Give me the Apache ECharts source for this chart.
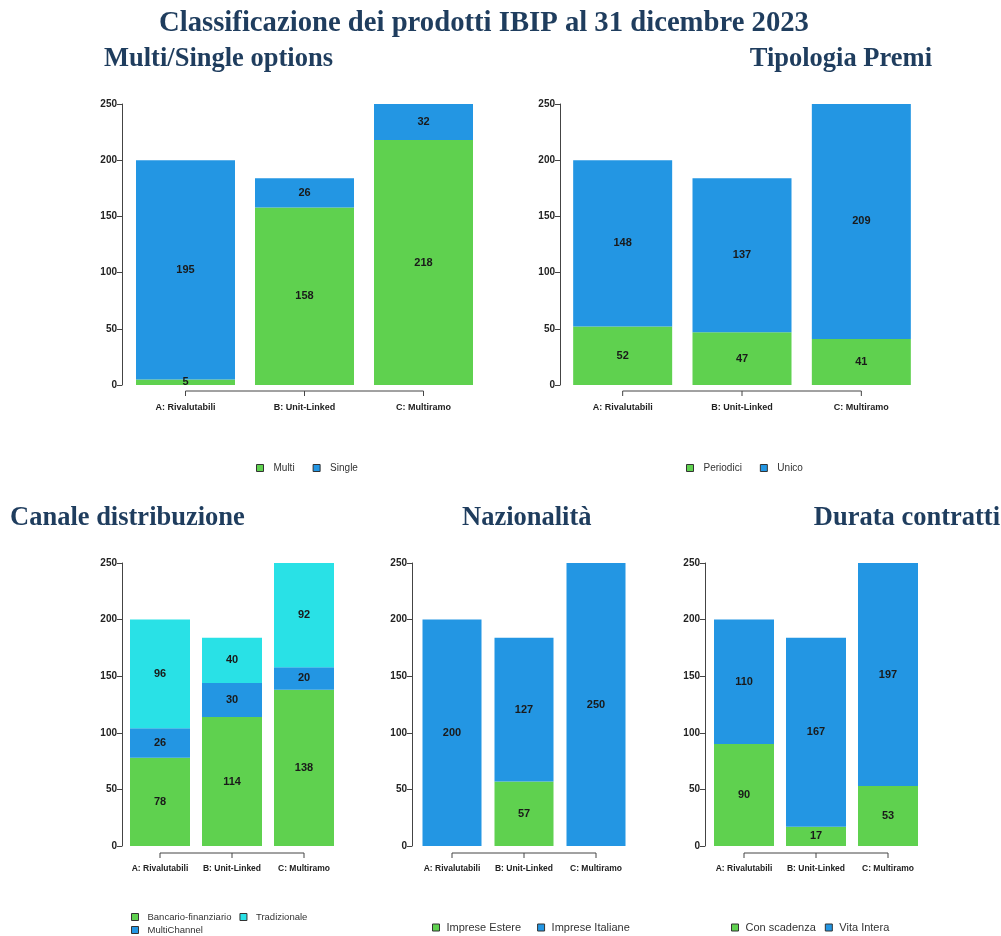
<!DOCTYPE html>
<html>
<head>
<meta charset="utf-8">
<script src="https://cdn.jsdelivr.net/npm/echarts@6/dist/echarts.min.js"></script>
<style>
  html, body { margin: 0; padding: 0; background: #fff; }
  #main { width: 1001px; height: 936px; }
</style>
</head>
<body>
<div id="main"></div>
<script>
// categorie comuni a tutti i pannelli
var categories = ['A: Rivalutabili', 'B: Unit-Linked', 'C: Multiramo'];
var yTicks = [0, 50, 100, 150, 200, 250];

// Multi/Single options
var multi = [5, 158, 218];
var single = [195, 26, 32];
// Tipologia Premi
var periodici = [52, 47, 41];
var unico = [148, 137, 209];
// Canale distribuzione
var bancario = [78, 114, 138];
var multiChannel = [26, 30, 20];
var tradizionale = [96, 40, 92];
// Nazionalita
var estere = [0, 57, 0];
var italiane = [200, 127, 250];
// Durata contratti
var conScadenza = [90, 17, 53];
var vitaIntera = [110, 167, 197];

var GREEN = '#5fd14f', BLUE = '#2396e3', CYAN = '#29e1e6';
var NAVY = '#1f3d5e';
var SERIF = '"Liberation Serif", "DejaVu Serif", serif';
var SANS = '"Liberation Sans", Arial, sans-serif';

// pannelli: griglia in pixel
var panels = [
    {left: 126, width: 357, top: 104, height: 281, yOff: 4, bar: 99, lab: 9},
    {left: 563, width: 358, top: 104, height: 281, yOff: 3, bar: 99, lab: 9},
    {left: 124, width: 216, top: 563, height: 283, yOff: 2, bar: 60, lab: 8.5},
    {left: 416, width: 216, top: 563, height: 283, yOff: 4, bar: 59, lab: 8.5},
    {left: 708, width: 216, top: 563, height: 283, yOff: 3, bar: 60, lab: 8.5}
];

var seriesDefs = [
    [['Multi', multi, GREEN], ['Single', single, BLUE]],
    [['Periodici', periodici, GREEN], ['Unico', unico, BLUE]],
    [['Bancario-finanziario', bancario, GREEN], ['MultiChannel', multiChannel, BLUE], ['Tradizionale', tradizionale, CYAN]],
    [['Imprese Estere', estere, GREEN], ['Imprese Italiane', italiane, BLUE]],
    [['Con scadenza', conScadenza, GREEN], ['Vita Intera', vitaIntera, BLUE]]
];

var grids = [], xAxes = [], yAxes = [], series = [];
panels.forEach(function (p, i) {
    grids.push({left: p.left, top: p.top, width: p.width, height: p.height});
    xAxes.push({
        type: 'category', gridIndex: i, data: categories,
        axisLine: {show: false}, axisTick: {show: false},
        axisLabel: {interval: 0, margin: 18, fontSize: p.lab, fontWeight: 'bold', color: '#222', fontFamily: SANS}
    });
    yAxes.push({
        type: 'value', gridIndex: i, min: 0, max: 250, interval: 50, offset: p.yOff,
        splitLine: {show: false},
        axisLine: {show: true, lineStyle: {color: '#444', width: 1}},
        axisTick: {show: true, length: 5, lineStyle: {color: '#444'}},
        axisLabel: {margin: 5, fontSize: 10, fontWeight: 'bold', color: '#222', fontFamily: SANS}
    });
    seriesDefs[i].forEach(function (d) {
        series.push({
            name: d[0], type: 'bar', stack: 'p' + i,
            xAxisIndex: i, yAxisIndex: i,
            barWidth: p.bar, data: d[1],
            itemStyle: {color: d[2]},
            label: {
                show: true, position: 'inside', fontSize: 11, fontWeight: 'bold',
                color: '#1a1a1a', fontFamily: SANS,
                formatter: function (v) { return v.value ? v.value : ''; }
            }
        });
    });
});

// legenda in stile R: quadratino bordato, testo un po' staccato
function legend(left, top, gap, size, pad, names) {
    return {
        left: left, top: top, itemGap: gap, padding: 0,
        icon: 'rect', itemWidth: 7, itemHeight: 7, orient: 'horizontal',
        itemStyle: {borderColor: '#333', borderWidth: 1},
        textStyle: {fontFamily: SANS, fontSize: size, color: '#333', padding: [0, 0, 0, pad]},
        selectedMode: false,
        data: names
    };
}

function title(text, pos, size) {
    return Object.assign({
        text: text, padding: 0,
        textStyle: {fontFamily: SERIF, fontWeight: 'bold', fontSize: size, color: NAVY}
    }, pos);
}

var chart = echarts.init(document.getElementById('main'));
chart.setOption({
    animation: false,
    title: [
        title('Classificazione dei prodotti IBIP al 31 dicembre 2023', {left: 159, top: 9}, 28.7),
        title('Multi/Single options', {left: 104, top: 46}, 26.5),
        title('Tipologia Premi', {right: 69, top: 46}, 26.5),
        title('Canale distribuzione', {left: 10, top: 505}, 26.5),
        title('Nazionalità', {left: 462, top: 505}, 26.5),
        title('Durata contratti', {right: 1, top: 505}, 26.5)
    ],
    legend: [
        legend(256, 463, 18, 10, 5, ['Multi', 'Single']),
        legend(686, 463, 18, 10, 5, ['Periodici', 'Unico']),
        legend(131, 912, 8, 9.5, 4, ['Bancario-finanziario', 'Tradizionale']),
        legend(131, 925, 8, 9.5, 4, ['MultiChannel']),
        legend(432, 922, 16, 11, 2, ['Imprese Estere', 'Imprese Italiane']),
        legend(731, 922, 9, 11, 2, ['Con scadenza', 'Vita Intera'])
    ],
    grid: grids,
    xAxis: xAxes,
    yAxis: yAxes,
    series: series
});

// asse x "alla R": linea dal primo all'ultimo centro di categoria, tacche verso il basso
var graphics = [];
panels.forEach(function (p, i) {
    var pts = categories.map(function (c) {
        return chart.convertToPixel({gridIndex: i}, [c, 0]);
    });
    var y = pts[0][1] + (i < 2 ? 6 : 7);
    var style = {stroke: '#444', lineWidth: 1};
    graphics.push({type: 'line', shape: {x1: pts[0][0], y1: y, x2: pts[2][0], y2: y}, style: style});
    pts.forEach(function (pt) {
        graphics.push({type: 'line', shape: {x1: pt[0], y1: y, x2: pt[0], y2: y + 5}, style: style});
    });
});
chart.setOption({graphic: graphics});
</script>
</body>
</html>
